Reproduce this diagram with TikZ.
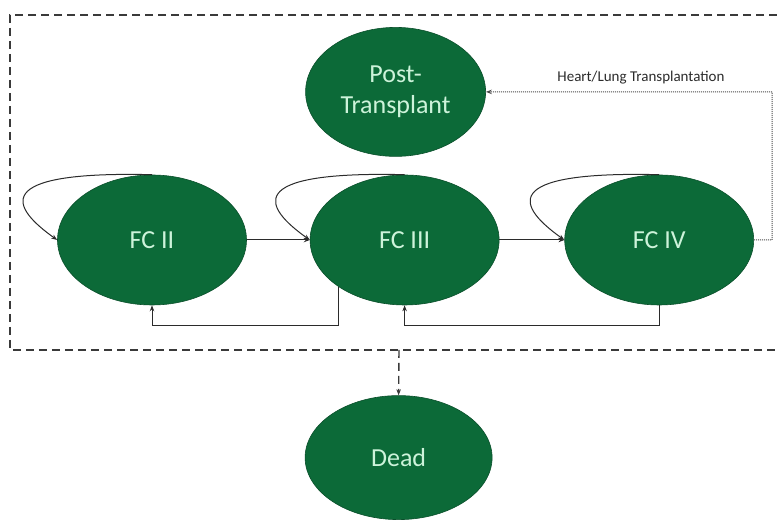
\documentclass[tikz,border=0pt]{standalone}
\usepackage{fontspec}
\setmainfont{Carlito}
\usepackage{tikz}
\usetikzlibrary{arrows.meta,positioning,shapes.geometric,calc}
\definecolor{forest}{HTML}{0C6A38}
\definecolor{forestdk}{HTML}{0A4F2B}
\definecolor{mint}{HTML}{CDF3DA}
\definecolor{ink}{HTML}{2B2B2B}
\definecolor{frame}{HTML}{3A3A3A}
\tikzset{
  state/.style={ellipse,draw=forestdk,line width=0.6pt,fill=forest,text=mint,inner sep=0pt,align=center,font=\fontsize{26}{31}\selectfont,minimum width=189pt,minimum height=130pt},
  arrow/.style={-{Stealth[length=6pt,width=4.5pt]},line width=1pt,color=ink},
  loop/.style={arrow,rounded corners=0pt},
  link/.style={arrow,densely dotted,line width=1pt,color=ink!85},
  frameline/.style={line width=1.6pt,color=frame,dash pattern=on 8pt off 5pt},
  lbl/.style={font=\fontsize{15}{17}\selectfont,text=ink},
}
\begin{document}
\begin{tikzpicture}[x=1pt,y=1pt]
    \useasboundingbox (0,0) rectangle (777,521);
    % states of the model
    \node[state] (fc2) at (152,281) {FC II};
    \node[state,right=63pt of fc2] (fc3) {FC III};
    \node[state,right=65pt of fc3] (fc4) {FC IV};
    \node[state,minimum width=180pt,minimum height=129pt,above=18pt of fc3,xshift=-9pt] (post) {Post-\\Transplant};
    \node[state,minimum width=187pt,minimum height=124pt,below=90pt of fc3,xshift=-6pt] (dead) {Dead};
    \node[lbl] (hlt) at (641,443) {Heart/Lung Transplantation};
    % alive region
    \draw[frameline] (777,506) -- (10,506) -- (10,171) -- (777,171);
    \coordinate (exit) at (399,171);
    \coordinate (turn) at (772,429);
    % staying in the same class
    \foreach \s in {fc2,fc3,fc4}
      \draw[loop] (\s.north) .. controls +(-165pt,4pt) and +(-45pt,32pt) .. (\s.west);
    % getting worse
    \draw[arrow] (fc2.east) -- (fc3.west);
    \draw[arrow] (fc3.east) -- (fc4.west);
    % getting better
    \draw[arrow] (fc3.215) |- ($(fc2.south)+(0,-20pt)$) -- (fc2.south);
    \draw[arrow] (fc4.south) -- ++(0,-20pt) -| (fc3.south);
    % transplant and death
    \draw[link] (fc4.east) -| (turn) -- (post.east);
    \draw[arrow,dash pattern=on 8pt off 5pt,line width=1.4pt,color=frame] (exit) -- (dead.north);
\end{tikzpicture}
\end{document}
